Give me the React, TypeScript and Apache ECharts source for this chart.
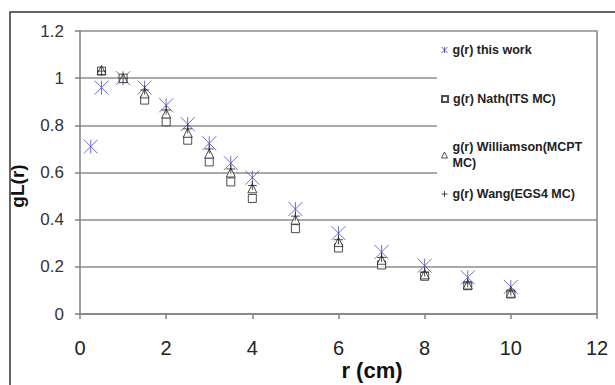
import React, { useEffect, useRef } from "react";
import * as echarts from "echarts";

const rThisWork = [0.25, 0.5, 1, 1.5, 2, 2.5, 3, 3.5, 4, 5, 6, 7, 8, 9, 10];
const gThisWork = [0.71, 0.96, 1.0, 0.96, 0.885, 0.805, 0.724, 0.64, 0.578, 0.445, 0.343, 0.263, 0.205, 0.155, 0.115];

const rMC = [0.5, 1, 1.5, 2, 2.5, 3, 3.5, 4, 5, 6, 7, 8, 9, 10];
const gNath = [1.03, 1.0, 0.907, 0.815, 0.737, 0.645, 0.56, 0.49, 0.362, 0.28, 0.208, 0.16, 0.12, 0.085];
const gWilliamson = [1.035, 1.0, 0.935, 0.85, 0.768, 0.68, 0.6, 0.533, 0.4, 0.305, 0.23, 0.168, 0.125, 0.09];
const gWang = [1.03, 1.0, 0.95, 0.865, 0.785, 0.7, 0.615, 0.545, 0.415, 0.315, 0.24, 0.178, 0.132, 0.097];

const seriesNames = [
  "g(r) this work",
  "g(r) Nath(ITS MC)",
  "g(r) Williamson(MCPT\nMC)",
  "g(r) Wang(EGS4 MC)",
];

const xTicks = { min: 0, max: 12, interval: 2 };
const yTicks = { min: 0, max: 1.2, interval: 0.2 };

const starPath = "path://M0,0L10,10M10,0L0,10M5,0L5,10";
const plusPath = "path://M5,0L5,10M0,5L10,5";

const pairs = (xs: number[], ys: number[]) => xs.map((x, i) => [x, ys[i]]);

export default function App() {
  const ref = useRef<HTMLDivElement>(null);
  useEffect(() => {
    if (!ref.current) return;
    const chart = echarts.init(ref.current, undefined, { renderer: "svg" });
    const font = "Arial, 'Liberation Sans', sans-serif";
    const legendBase = {
      orient: "vertical" as const,
      left: 441,
      padding: 0,
      itemWidth: 6,
      itemHeight: 6,
      itemGap: 5,
      z: 10,
      textStyle: { fontFamily: font, fontWeight: "bold" as const, fontSize: 12.5, color: "#222", lineHeight: 16 },
    };
    chart.setOption({
      animation: false,
      backgroundColor: "#fff",
      grid: { left: 80, right: 18, top: 31, bottom: 71 },
      xAxis: {
        type: "value",
        min: xTicks.min,
        max: xTicks.max,
        interval: xTicks.interval,
        axisLine: { show: true, onZero: false, lineStyle: { color: "#808080", width: 1.5 } },
        axisTick: { show: true, length: 5, lineStyle: { color: "#808080", width: 1.5 } },
        splitLine: { show: false },
        axisLabel: { fontFamily: font, fontSize: 20, color: "#222", margin: 24 },
      },
      yAxis: [
        {
          type: "value",
          min: yTicks.min,
          max: yTicks.max,
          interval: yTicks.interval,
          axisLine: { show: true, lineStyle: { color: "#808080", width: 1.5 } },
          axisTick: { show: true, length: 5, lineStyle: { color: "#808080", width: 1.5 } },
          splitLine: { show: true, lineStyle: { color: "#8c8c8c", width: 1.5 } },
          axisLabel: { fontFamily: font, fontSize: 17, color: "#333", margin: 16 },
        },
        {
          type: "value",
          position: "right",
          min: yTicks.min,
          max: yTicks.max,
          interval: yTicks.interval,
          axisLine: { show: true, lineStyle: { color: "#808080", width: 1.5 } },
          axisTick: { show: true, inside: true, length: 3, lineStyle: { color: "#a0a0a0" } },
          splitLine: { show: false },
          axisLabel: { show: false },
        },
      ],
      legend: [
        { ...legendBase, id: "lg0", top: 42, data: [seriesNames[0]], itemStyle: { color: "transparent", borderColor: "#4040c0", borderWidth: 1 } },
        { ...legendBase, id: "lg1", top: 91, data: [seriesNames[1]] },
        {
          ...legendBase,
          id: "lg2",
          top: 139,
          data: [seriesNames[2]],
          itemStyle: { color: "transparent", borderColor: "#222", borderWidth: 1 },
        },
        { ...legendBase, id: "lg3", top: 186, data: [seriesNames[3]], itemStyle: { color: "transparent", borderColor: "#222", borderWidth: 1 } },
      ],
      graphic: [
        {
          type: "rect",
          z: 3,
          shape: { x: 437, y: 32, width: 159, height: 175 },
          style: { fill: "#fff" },
        },
        {
          type: "rect",
          z: 3,
          shape: { x: 10, y: 12, width: 640, height: 420 },
          style: { fill: "none", stroke: "#333", lineWidth: 1.5 },
        },
        {
          type: "text",
          z: 3,
          x: 17,
          y: 186,
          rotation: Math.PI / 2,
          style: {
            text: "gL(r)",
            fontFamily: font,
            fontWeight: "bold",
            fontSize: 19,
            fill: "#111",
            align: "center",
            verticalAlign: "middle",
          },
        },
        {
          type: "text",
          z: 3,
          x: 372,
          y: 370,
          style: {
            text: "r (cm)",
            fontFamily: font,
            fontWeight: "bold",
            fontSize: 22,
            fill: "#111",
            align: "center",
            verticalAlign: "middle",
          },
        },
      ],
      series: [
        {
          name: seriesNames[0],
          type: "scatter",
          data: pairs(rThisWork, gThisWork),
          symbol: starPath,
          symbolSize: 14,
          itemStyle: { color: "transparent", borderColor: "#4a4ac4", borderWidth: 1 },
        },
        {
          name: seriesNames[1],
          type: "scatter",
          data: pairs(rMC, gNath),
          symbol: "rect",
          symbolSize: 8,
          itemStyle: { color: "#fff", borderColor: "#222", borderWidth: 1 },
        },
        {
          name: seriesNames[2],
          type: "scatter",
          data: pairs(rMC, gWilliamson),
          symbol: "triangle",
          symbolSize: 9,
          itemStyle: { color: "#fff", borderColor: "#222", borderWidth: 1 },
        },
        {
          name: seriesNames[3],
          type: "scatter",
          data: pairs(rMC, gWang),
          symbol: plusPath,
          symbolSize: 9,
          itemStyle: { color: "transparent", borderColor: "#222", borderWidth: 1 },
        },
      ],
    });
    return () => chart.dispose();
  }, []);
  return <div ref={ref} style={{ width: 615, height: 385, position: "absolute", left: 0, top: 0 }} />;
}
